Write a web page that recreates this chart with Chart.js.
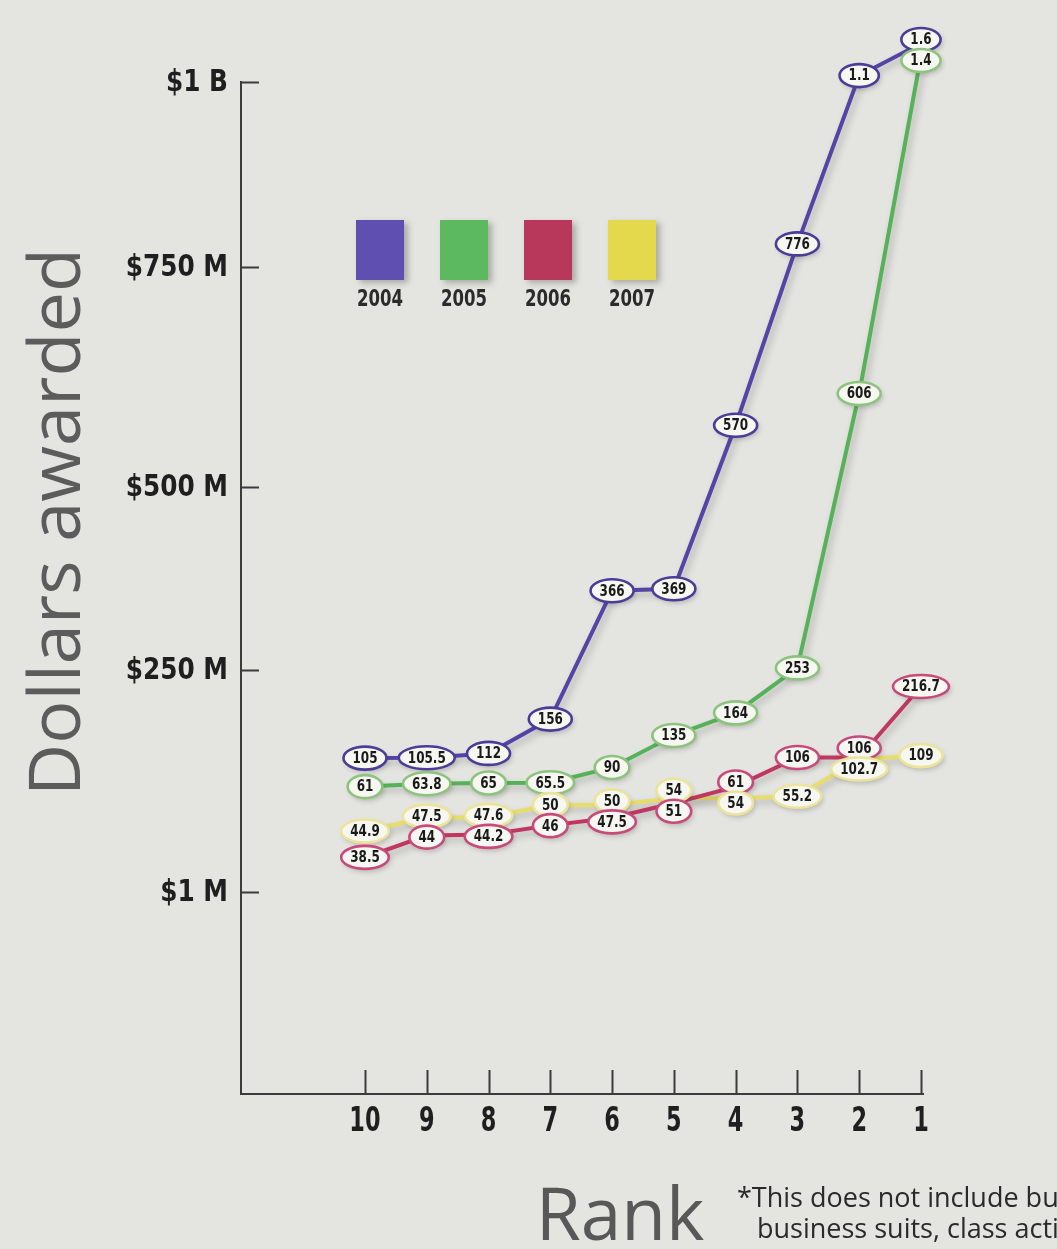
<!DOCTYPE html>
<html>
<head>
<meta charset="utf-8">
<title>Dollars awarded by rank, 2004–2007</title>
<script src="https://cdn.jsdelivr.net/npm/chart.js@4.4.1/dist/chart.umd.min.js"></script>
<style>
  html, body { margin: 0; padding: 0; background: #e4e4e0; }
  #wrap { position: relative; width: 1057px; height: 1249px; overflow: hidden; background: #e4e4e0; }
  canvas { display: block; }
</style>
</head>
<body>
<div id="wrap"><canvas id="chart" width="1057" height="1249"></canvas></div>
<script>
// ---- data -------------------------------------------------------------
const RANKS = [10, 9, 8, 7, 6, 5, 4, 3, 2, 1];
const YEARS = ['2004', '2005', '2006', '2007'];

// Awards at each rank, in millions of dollars
const AWARDS_2004 = [105, 105.5, 112, 156, 366, 369, 570, 776, 1100, 1600];
const AWARDS_2005 = [61, 63.8, 65, 65.5, 90, 135, 164, 253, 606, 1400];
const AWARDS_2006 = [38.5, 44, 44.2, 46, 47.5, 51, 61, 106, 106, 216.7];
const AWARDS_2007 = [44.9, 47.5, 47.6, 50, 50, 54, 54, 55.2, 102.7, 109];

const Y_TICKS = [1, 250, 500, 750, 1000];
const Y_TICK_LABELS = ['$1 M', '$250 M', '$500 M', '$750 M', '$1 B'];

// ---- look -------------------------------------------------------------
const SERIES = [AWARDS_2004, AWARDS_2005, AWARDS_2006, AWARDS_2007];
const LINE_COLORS = ['#5444a6', '#55b258', '#c0375f', '#e7dd6a'];
const SWATCH_COLORS = ['#5e4fb1', '#5cb95f', '#b7385b', '#e4d84c'];
const BUBBLE_STROKES = ['#4a3c98', '#8cc47e', '#c9497a', '#ece49a'];
const HEAVY = "'DejaVu Sans', 'Liberation Sans', sans-serif";
const TEXT_FONT = "'Open Sans', 'Noto Sans', sans-serif";

// The value axis is drawn in equal steps per printed tick, with the
// step size easing off between ticks (value -> step position).
const AXIS_KNOT_VALUES = [0, 1, 40, 50, 62, 110, 165, 250, 370, 500, 776, 1000, 1600];
const AXIS_KNOT_STEPS  = [0, 1, 1.176, 1.428, 1.527, 1.675, 1.887, 2.095, 2.5, 3.0, 4.2, 5.0, 5.19];
const AXIS_STEP_MAX = 5.0;

function toStep(v) {
  const kv = AXIS_KNOT_VALUES, ks = AXIS_KNOT_STEPS;
  if (v <= kv[0]) return ks[0];
  for (let i = 1; i < kv.length; i++) {
    if (v <= kv[i]) {
      const t = (v - kv[i - 1]) / (kv[i] - kv[i - 1]);
      return ks[i - 1] + t * (ks[i] - ks[i - 1]);
    }
  }
  const n = kv.length - 1;
  return ks[n] + (v - kv[n]) * (ks[n] - ks[n - 1]) / (kv[n] - kv[n - 1]);
}
function fromStep(u) {
  const kv = AXIS_KNOT_VALUES, ks = AXIS_KNOT_STEPS;
  if (u <= ks[0]) return kv[0];
  for (let i = 1; i < ks.length; i++) {
    if (u <= ks[i]) {
      const t = (u - ks[i - 1]) / (ks[i] - ks[i - 1]);
      return kv[i - 1] + t * (kv[i] - kv[i - 1]);
    }
  }
  const n = ks.length - 1;
  return kv[n] + (u - ks[n]) * (kv[n] - kv[n - 1]) / (ks[n] - ks[n - 1]);
}

class SteppedScale extends Chart.LinearScale {
  buildTicks() { return Y_TICKS.map(v => ({ value: v })); }
  getPixelForValue(value) { return this.getPixelForDecimal(toStep(value) / AXIS_STEP_MAX); }
  getValueForPixel(pixel) { return fromStep(this.getDecimalForPixel(pixel) * AXIS_STEP_MAX); }
}
SteppedScale.id = 'stepped';
SteppedScale.defaults = Chart.LinearScale.defaults;
Chart.register(SteppedScale);

function formatAward(v) {
  return v >= 1000 ? String(v / 1000) : String(v);
}

// bold text squeezed horizontally, like a condensed display face
function condensedText(c, text, x, y, size, squeeze, align, baseline, color) {
  c.save();
  c.translate(x, y);
  c.scale(squeeze, 1);
  c.font = `bold ${size}px ${HEAVY}`;
  c.textAlign = align;
  c.textBaseline = baseline;
  c.fillStyle = color;
  c.fillText(text, 0, 0);
  c.restore();
}

// ---- plugins ----------------------------------------------------------
const printShadow = {
  id: 'printShadow',
  beforeDatasetDraw(chart) {
    const c = chart.ctx;
    c.save();
    c.shadowColor = 'rgba(70,70,70,0.32)';
    c.shadowBlur = 7;
    c.shadowOffsetX = 3;
    c.shadowOffsetY = 4;
  },
  afterDatasetDraw(chart) { chart.ctx.restore(); }
};

const axisMarks = {
  id: 'axisMarks',
  afterDraw(chart) {
    const c = chart.ctx, area = chart.chartArea;
    const ys = chart.scales.y, xs = chart.scales.x;
    c.save();
    c.strokeStyle = '#3b3b3b';
    c.lineWidth = 2;
    c.beginPath();
    ys.ticks.forEach((t, i) => {
      const y = Math.round(ys.getPixelForTick(i)) + 0.5;
      c.moveTo(area.left, y); c.lineTo(area.left + 18, y);
    });
    xs.ticks.forEach((t, i) => {
      const x = Math.round(xs.getPixelForTick(i)) + 0.5;
      c.moveTo(x, area.bottom); c.lineTo(x, area.bottom - 24);
    });
    c.stroke();
    c.restore();
    ys.ticks.forEach((t, i) => {
      condensedText(c, t.label, area.left - 13, ys.getPixelForTick(i) + 1, 31, 0.8, 'right', 'middle', '#1f1f1f');
    });
    xs.ticks.forEach((t, i) => {
      condensedText(c, t.label, xs.getPixelForTick(i), area.bottom + 28, 33, 0.68, 'center', 'middle', '#1f1f1f');
    });
  }
};

const bubbles = {
  id: 'bubbles',
  afterDatasetsDraw(chart) {
    const c = chart.ctx;
    const cols = {};
    chart.data.datasets.forEach((ds, di) => {
      const meta = chart.getDatasetMeta(di);
      meta.data.forEach((pt, i) => {
        (cols[i] = cols[i] || []).push({ x: pt.x, y: pt.y, text: formatAward(ds.data[i].y), stroke: ds.bubbleStroke });
      });
    });
    const GAP = 21, SQ = 0.8, SIZE = 15;
    c.save();
    c.font = `bold ${SIZE}px ${HEAVY}`;
    Object.values(cols).forEach(list => {
      list.sort((a, b) => a.y - b.y);
      for (let pass = 0; pass < 30; pass++) {
        let moved = false;
        for (let j = 1; j < list.length; j++) {
          const d = list[j].y - list[j - 1].y;
          if (d < GAP) {
            const push = (GAP - d) / 2;
            list[j - 1].y -= push; list[j].y += push; moved = true;
          }
        }
        if (!moved) break;
      }
      list.forEach(b => {
        const w = c.measureText(b.text).width * SQ;
        const rx = w / 2 + 9, ry = 11.5;
        c.save();
        c.shadowColor = 'rgba(70,70,70,0.28)';
        c.shadowBlur = 5; c.shadowOffsetX = 2; c.shadowOffsetY = 3;
        c.beginPath();
        c.ellipse(b.x, b.y, rx, ry, 0, 0, Math.PI * 2);
        c.fillStyle = '#f7f7f2';
        c.fill();
        c.restore();
        c.beginPath();
        c.ellipse(b.x, b.y, rx, ry, 0, 0, Math.PI * 2);
        c.lineWidth = 2.6;
        c.strokeStyle = b.stroke;
        c.stroke();
        condensedText(c, b.text, b.x, b.y + 1, SIZE, SQ, 'center', 'middle', '#1a1a1a');
      });
    });
    c.restore();
  }
};

const swatchLegend = {
  id: 'swatchLegend',
  beforeDatasetsDraw(chart) {
    const c = chart.ctx;
    chart.data.datasets.forEach((ds, k) => {
      const x = 356 + k * 84, y = 220, w = 48, h = 60;
      c.save();
      c.shadowColor = 'rgba(60,60,60,0.35)';
      c.shadowBlur = 6; c.shadowOffsetX = 4; c.shadowOffsetY = 3;
      c.fillStyle = ds.backgroundColor;
      c.fillRect(x, y, w, h);
      c.restore();
      condensedText(c, ds.label, x + w / 2, 306, 23, 0.72, 'center', 'alphabetic', '#2b2b2b');
    });
  }
};

const captions = {
  id: 'captions',
  afterDraw(chart) {
    const c = chart.ctx;
    c.save();
    c.fillStyle = '#5c5c5c';
    c.font = `400 72px ${TEXT_FONT}`;
    c.textAlign = 'center';
    c.textBaseline = 'alphabetic';
    c.translate(80, 522);
    c.rotate(-Math.PI / 2);
    c.fillText('Dollars awarded', 0, 0);
    c.restore();

    c.save();
    c.fillStyle = '#585858';
    c.font = `400 73px ${TEXT_FONT}`;
    c.textAlign = 'center';
    c.fillText('Rank', 620, 1240);
    c.fillStyle = '#2a2a2a';
    c.font = `400 27px ${TEXT_FONT}`;
    c.textAlign = 'left';
    c.fillText('*This does not include business-to-', 737, 1207);
    c.fillText('business suits, class actions', 757, 1238);
    c.restore();
  }
};

// ---- chart ------------------------------------------------------------
new Chart(document.getElementById('chart'), {
  type: 'line',
  data: {
    datasets: YEARS.map((yr, k) => ({
      label: yr,
      data: RANKS.map((r, i) => ({ x: r, y: SERIES[k][i] })),
      borderColor: LINE_COLORS[k],
      backgroundColor: SWATCH_COLORS[k],
      bubbleStroke: BUBBLE_STROKES[k],
      borderWidth: 4,
      pointRadius: 0,
      pointHoverRadius: 0,
      tension: 0,
      clip: false
    }))
  },
  options: {
    responsive: false,
    maintainAspectRatio: false,
    animation: false,
    events: [],
    layout: { padding: { left: 0, right: 134, top: 82, bottom: 0 } },
    plugins: { legend: { display: false }, tooltip: { enabled: false } },
    scales: {
      x: {
        type: 'linear',
        reverse: true,
        min: 0.967,
        max: 12.007,
        afterBuildTicks: s => { s.ticks = RANKS.map(v => ({ value: v })); },
        afterFit: s => { s.height = 155; },
        ticks: { display: false, autoSkip: false, callback: v => String(v) },
        grid: { display: false },
        border: { display: true, color: '#3b3b3b', width: 2 }
      },
      y: {
        type: 'stepped',
        min: 0,
        max: 1600,
        afterFit: s => { s.width = 241; },
        ticks: { display: false, callback: v => Y_TICK_LABELS[Y_TICKS.indexOf(v)] },
        grid: { display: false },
        border: { display: true, color: '#3b3b3b', width: 2 }
      }
    }
  },
  plugins: [printShadow, swatchLegend, bubbles, axisMarks, captions]
});
</script>
</body>
</html>
